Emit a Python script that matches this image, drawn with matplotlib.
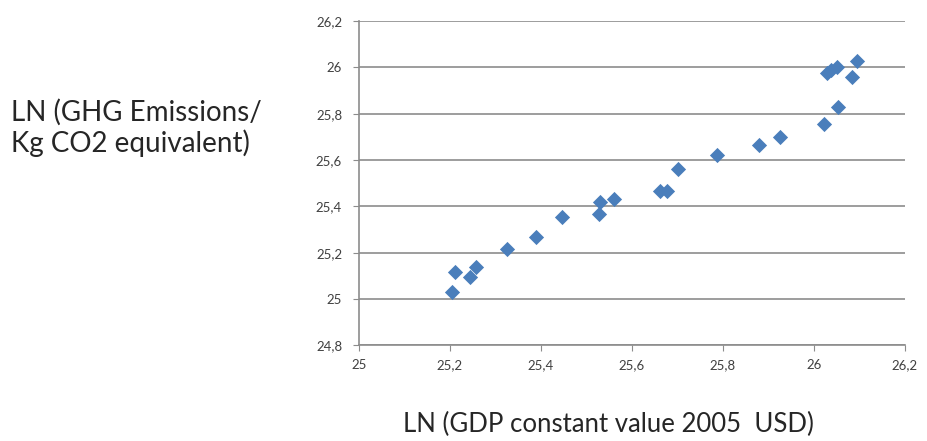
import matplotlib
matplotlib.use('Agg')
import matplotlib.pyplot as plt
from matplotlib.ticker import FuncFormatter

plt.rcParams['font.family'] = ['Lato', 'DejaVu Sans']

# LN(GDP) vs LN(GHG emissions)
ln_gdp = [25.204, 25.212, 25.244, 25.257, 25.325, 25.390, 25.447, 25.527,
          25.530, 25.560, 25.662, 25.678, 25.702, 25.788, 25.880, 25.926,
          26.022, 26.053, 26.029, 26.039, 26.050, 26.084, 26.096]
ln_ghg = [25.031, 25.117, 25.097, 25.139, 25.216, 25.268, 25.356, 25.366,
          25.417, 25.434, 25.467, 25.467, 25.561, 25.621, 25.666, 25.698,
          25.754, 25.830, 25.977, 25.988, 26.003, 25.959, 26.029]

xticks = [25, 25.2, 25.4, 25.6, 25.8, 26, 26.2]
yticks = [24.8, 25, 25.2, 25.4, 25.6, 25.8, 26, 26.2]

fig = plt.figure(figsize=(9.27, 4.41), dpi=100)
ax = fig.add_axes([0.387, 0.2166, 0.589, 0.7358])

ax.scatter(ln_gdp, ln_ghg, marker='D', s=60, color='#4a7ebb', zorder=3, linewidths=0)

ax.set_xlim(25, 26.2)
ax.set_ylim(24.8, 26.2)
ax.set_xticks(xticks)
ax.set_yticks(yticks)

comma = FuncFormatter(lambda v, p: ('%g' % round(v, 1)).replace('.', ','))
ax.xaxis.set_major_formatter(comma)
ax.yaxis.set_major_formatter(comma)

ax.grid(axis='y', color='#8c8c8c', lw=1.2)
ax.set_axisbelow(True)
for s in ['top', 'right']:
    ax.spines[s].set_visible(False)
for s in ['left', 'bottom']:
    ax.spines[s].set_color('#8c8c8c')
    ax.spines[s].set_linewidth(1.2)

ax.tick_params(axis='both', colors='#8c8c8c', labelcolor='#404040', labelsize=9.5, length=4)
ax.tick_params(axis='x', pad=6)
ax.tick_params(axis='y', pad=8)

fig.text(0.012, 0.71, 'LN (GHG Emissions/\nKg CO2 equivalent)', fontsize=20,
         color='#262626', ha='left', va='center', linespacing=1.15)
fig.text(0.656, 0.008, 'LN (GDP constant value 2005  USD)', fontsize=18.5,
         color='#262626', ha='center', va='bottom')

fig.savefig('out.png', dpi=100)
